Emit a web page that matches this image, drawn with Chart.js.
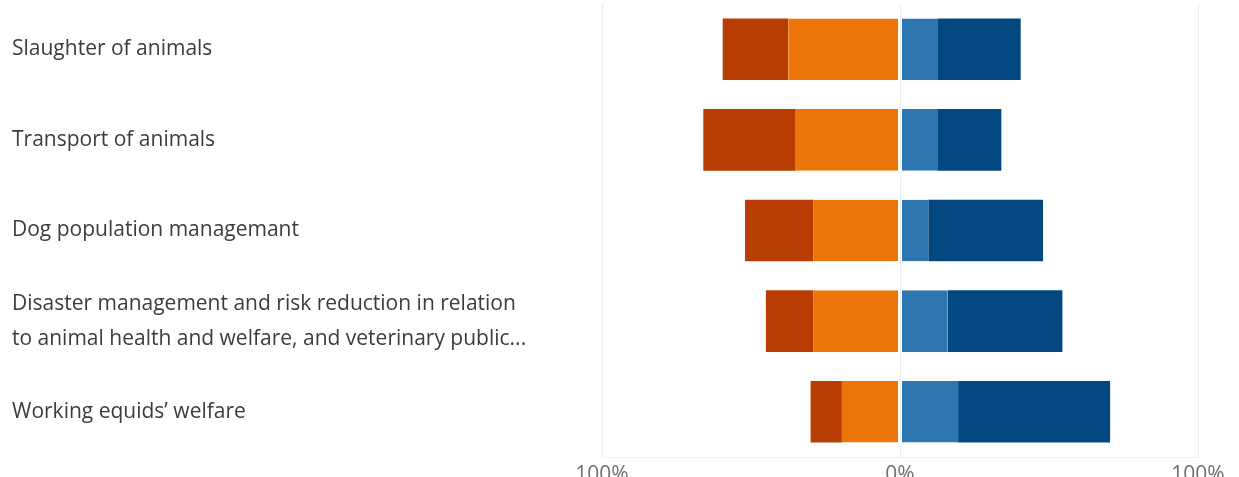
<!DOCTYPE html>
<html lang="en">
<head>
  <meta charset="UTF-8">
  <title>Animal welfare topics</title>
  <script src="https://cdn.jsdelivr.net/npm/chart.js"></script>
  <style>
    html, body { margin: 0; padding: 0; background: #fff; overflow: hidden; }
    #wrap { width: 1239px; height: 477px; }
  </style>
</head>
<body>
<div id="wrap"><canvas id="likertChart"></canvas></div>

<script>
  // categories (y axis)
  const topics = [
    'Slaughter of animals',
    'Transport of animals',
    'Dog population managemant',
    ['Disaster management and risk reduction in relation', 'to animal health and welfare, and veterinary public...'],
    'Working equids\u2019 welfare'
  ];

  // percentages, negative side drawn left of 0
  const stronglyNegative = [22, 31, 23, 16, 10.5];
  const negative = [37.5, 35, 29, 29, 19.5];
  const positive = [12.5, 12.5, 9.5, 16, 19.5];
  const stronglyPositive = [28, 21.5, 38.5, 38.5, 51];

  // x axis ticks
  const xTicks = [-100, 0, 100];

  const ctx = document.getElementById('likertChart').getContext('2d');
  new Chart(ctx, {
    type: 'bar',
    data: {
      labels: topics,
      datasets: [
        {
          label: 'Disagree',
          data: negative.map(v => -v),
          backgroundColor: '#ec750a',
          borderColor: '#ffffff',
          borderWidth: { right: 1.5 },
          borderSkipped: false
        },
        {
          label: 'Strongly disagree',
          data: stronglyNegative.map(v => -v),
          backgroundColor: '#b83d02'
        },
        {
          label: 'Agree',
          data: positive,
          backgroundColor: '#2e76b0',
          borderColor: '#ffffff',
          borderWidth: { left: 1.5 },
          borderSkipped: false
        },
        {
          label: 'Strongly agree',
          data: stronglyPositive,
          backgroundColor: '#02477f'
        }
      ]
    },
    options: {
      indexAxis: 'y',
      responsive: true,
      maintainAspectRatio: false,
      animation: false,
      categoryPercentage: 1,
      barPercentage: 0.68,
      layout: { padding: { left: 12, right: 41, top: 4, bottom: 0 } },
      plugins: {
        legend: { display: false },
        tooltip: { enabled: false }
      },
      scales: {
        x: {
          stacked: true,
          min: -100,
          max: 100,
          afterBuildTicks: s => { s.ticks = xTicks.map(v => ({ value: v })); },
          afterFit: s => { s.height = 20; },
          grid: { color: '#ececec', drawTicks: false },
          border: { display: true, color: '#f2f2f2' },
          ticks: {
            padding: 5,
            color: '#707070',
            font: { family: 'Open Sans', size: 21 },
            callback: v => Math.abs(v) + '%'
          }
        },
        y: {
          stacked: true,
          afterFit: s => {
            s.width = 590;
            s.paddingTop = 0;
            s.paddingBottom = 0;
          },
          grid: { display: false },
          border: { display: false },
          ticks: {
            crossAlign: 'far',
            color: '#3c3c3c',
            font: { family: 'Open Sans', size: 21, lineHeight: 1.67 }
          }
        }
      }
    }
  });
</script>
</body>
</html>
